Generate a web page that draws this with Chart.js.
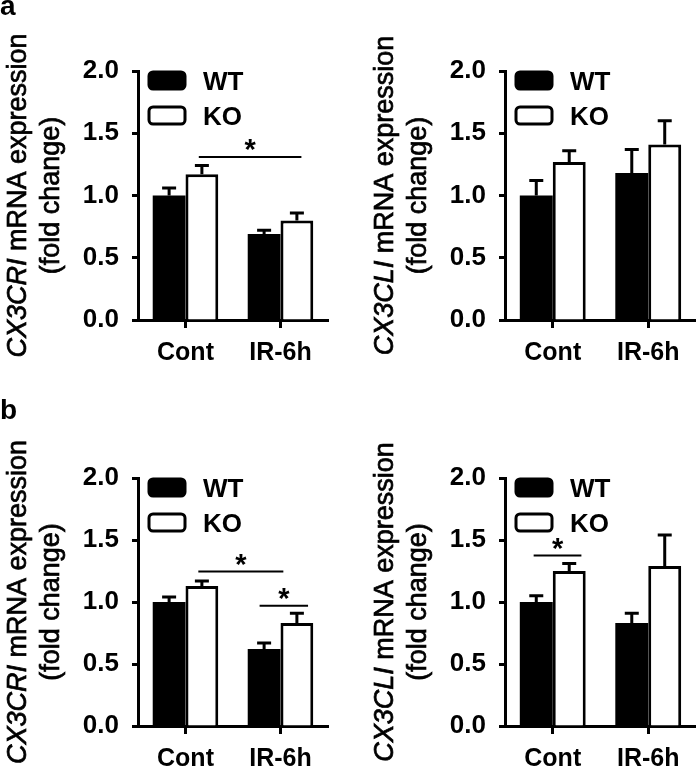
<!DOCTYPE html>
<html lang="en">
<head>
<meta charset="UTF-8">
<title>CX3CR1 / CX3CL1 mRNA expression</title>
<script src="https://cdn.jsdelivr.net/npm/chart.js"></script>
<style>
  body { margin: 0; background: #fff; font-family: 'Liberation Sans', Arial, sans-serif; }
  #fig { position: relative; width: 696px; height: 769px; overflow: hidden; }
  canvas { position: absolute; }
  .tag { position: absolute; font-weight: bold; font-size: 28px; line-height: 1; }
</style>
</head>
<body>
<div id="fig">
  <canvas id="aR" width="348" height="384" style="left:0;top:0"></canvas>
  <canvas id="aL" width="348" height="384" style="left:348px;top:0"></canvas>
  <canvas id="bR" width="348" height="385" style="left:0;top:384px"></canvas>
  <canvas id="bL" width="348" height="385" style="left:348px;top:384px"></canvas>
  <div class="tag" style="left:0;top:-8px">a</div>
  <div class="tag" style="left:0;top:396px">b</div>
</div>

<script>
// data
const categories = ['Cont', 'IR-6h'];
const seriesNames = ['WT', 'KO'];
const yTicks = [0, 0.5, 1.0, 1.5, 2.0];

// panel a, CX3CR1
const aR_wt = [1.00, 0.69];
const aR_wtErr = [0.06, 0.03];
const aR_ko = [1.17, 0.80];
const aR_koErr = [0.07, 0.06];
const aR_sig = [[0.14, 1.22, 1.31]];   // [from, to] on category axis, y value

// panel a, CX3CL1
const aL_wt = [1.00, 1.18];
const aL_wtErr = [0.12, 0.19];
const aL_ko = [1.27, 1.41];
const aL_koErr = [0.09, 0.19];
const aL_sig = [];

// panel b, CX3CR1
const bR_wt = [1.00, 0.62];
const bR_wtErr = [0.04, 0.05];
const bR_ko = [1.13, 0.83];
const bR_koErr = [0.04, 0.08];
const bR_sig = [[0.135, 1.03, 1.245], [0.78, 1.29, 0.97]];

// panel b, CX3CL1
const bL_wt = [1.00, 0.83];
const bL_wtErr = [0.05, 0.08];
const bL_ko = [1.25, 1.29];
const bL_koErr = [0.06, 0.25];
const bL_sig = [[-0.2, 0.3, 1.375]];

const FONT = "'Liberation Sans', Arial, sans-serif";

// upward error bars
const errorBars = {
  id: 'errorBars',
  afterDatasetsDraw(chart) {
    const ctx = chart.ctx, y = chart.scales.y;
    chart.data.datasets.forEach((ds, i) => {
      chart.getDatasetMeta(i).data.forEach((bar, j) => {
        const top = y.getPixelForValue(ds.data[j] + ds.err[j]);
        ctx.save();
        ctx.strokeStyle = '#000';
        ctx.lineWidth = 3;
        ctx.beginPath();
        ctx.moveTo(bar.x, bar.y);
        ctx.lineTo(bar.x, top);
        ctx.moveTo(bar.x - 7, top);
        ctx.lineTo(bar.x + 7, top);
        ctx.stroke();
        ctx.restore();
      });
    });
  }
};

// significance lines with star
const sigBars = {
  id: 'sigBars',
  afterDatasetsDraw(chart, args, opts) {
    const ctx = chart.ctx, x = chart.scales.x, y = chart.scales.y;
    (opts.marks || []).forEach(m => {
      const x1 = x.getPixelForValue(m[0]);
      const x2 = x.getPixelForValue(m[1]);
      const yy = y.getPixelForValue(m[2]);
      ctx.save();
      ctx.strokeStyle = '#000';
      ctx.lineWidth = 2;
      ctx.beginPath();
      ctx.moveTo(x1, yy);
      ctx.lineTo(x2, yy);
      ctx.stroke();
      ctx.fillStyle = '#000';
      ctx.font = 'bold 29px ' + FONT;
      ctx.textAlign = 'center';
      ctx.textBaseline = 'alphabetic';
      ctx.fillText('*', (x1 + x2) / 2, yy + 2);
      ctx.restore();
    });
  }
};

// legend inside the plot, top left
const insideLegend = {
  id: 'insideLegend',
  afterDraw(chart) {
    const ctx = chart.ctx, area = chart.chartArea;
    chart.data.datasets.forEach((ds, i) => {
      const top = area.top + 1 + i * 35;
      ctx.save();
      ctx.beginPath();
      ctx.roundRect(area.left + 11, top, 36, 17, 4);
      ctx.fillStyle = ds.backgroundColor;
      ctx.fill();
      ctx.lineWidth = 3;
      ctx.strokeStyle = '#000';
      ctx.stroke();
      ctx.fillStyle = '#000';
      ctx.font = 'bold 26px ' + FONT;
      ctx.textBaseline = 'alphabetic';
      ctx.fillText(ds.label, area.left + 65, top + 18);
      ctx.restore();
    });
  }
};

// two line y title, gene name in italics
const yTitle = {
  id: 'yTitle',
  afterDraw(chart, args, opts) {
    const ctx = chart.ctx, area = chart.chartArea;
    const cy = (area.top + area.bottom) / 2;
    const rest = ' mRNA expression';
    const put = (txt, x) => { ctx.fillText(txt, x, 0); ctx.strokeText(txt, x, 0); };
    ctx.save();
    ctx.fillStyle = '#000';
    ctx.strokeStyle = '#000';
    ctx.lineWidth = 0.7;
    ctx.textBaseline = 'alphabetic';
    ctx.translate(area.left - 112, cy);
    ctx.rotate(-Math.PI / 2);
    ctx.font = 'italic 27px ' + FONT;
    const w1 = ctx.measureText(opts.gene).width;
    ctx.font = '27px ' + FONT;
    const w2 = ctx.measureText(rest).width;
    const x0 = -(w1 + w2) / 2;
    ctx.font = 'italic 27px ' + FONT;
    put(opts.gene, x0);
    ctx.font = '27px ' + FONT;
    put(rest, x0 + w1);
    ctx.restore();

    ctx.save();
    ctx.fillStyle = '#000';
    ctx.strokeStyle = '#000';
    ctx.lineWidth = 0.7;
    ctx.textBaseline = 'alphabetic';
    ctx.textAlign = 'center';
    ctx.translate(area.left - 79, cy);
    ctx.rotate(-Math.PI / 2);
    ctx.font = '27px ' + FONT;
    put('(fold change)', 0);
    ctx.restore();
  }
};

function makePanel(id, gene, wt, wtErr, ko, koErr, sig, padTop, xHeight, yWidth, padRight) {
  new Chart(document.getElementById(id), {
    type: 'bar',
    data: {
      labels: categories,
      datasets: [
        { label: seriesNames[0], data: wt, err: wtErr, backgroundColor: '#000', borderColor: '#000',
          borderWidth: 0, categoryPercentage: 0.69, barPercentage: 1.0 },
        { label: seriesNames[1], data: ko, err: koErr, backgroundColor: '#fff', borderColor: '#000',
          borderWidth: 3, categoryPercentage: 0.69, barPercentage: 1.0 }
      ]
    },
    options: {
      responsive: false,
      animation: false,
      devicePixelRatio: 1,
      layout: { padding: { top: padTop, right: padRight, left: 0, bottom: 0 } },
      plugins: {
        legend: { display: false },
        tooltip: { enabled: false },
        sigBars: { marks: sig },
        yTitle: { gene: gene }
      },
      scales: {
        x: {
          grid: { drawOnChartArea: false, offset: false, tickLength: 8, tickWidth: 3, tickColor: '#000' },
          border: { display: true, color: '#000', width: 3 },
          ticks: { color: '#000', padding: 10, font: { family: FONT, size: 25, weight: 'bold' } },
          afterFit(s) { s.height = xHeight; }
        },
        y: {
          min: 0,
          max: 2,
          afterBuildTicks(s) { s.ticks = yTicks.map(v => ({ value: v })); },
          grid: { drawOnChartArea: false, tickLength: 6, tickWidth: 3, tickColor: '#000' },
          border: { display: true, color: '#000', width: 3 },
          ticks: { color: '#000', padding: 13, font: { family: FONT, size: 26, weight: 'bold' },
                   callback: v => v.toFixed(1) },
          afterFit(s) { s.width = yWidth; }
        }
      }
    },
    plugins: [errorBars, sigBars, insideLegend, yTitle]
  });
}

makePanel('aR', 'CX3CRI', aR_wt, aR_wtErr, aR_ko, aR_koErr, aR_sig, 71, 64, 138, 20);
makePanel('aL', 'CX3CLI', aL_wt, aL_wtErr, aL_ko, aL_koErr, aL_sig, 71, 64, 157, 0);
makePanel('bR', 'CX3CRI', bR_wt, bR_wtErr, bR_ko, bR_koErr, bR_sig, 94, 43, 138, 20);
makePanel('bL', 'CX3CLI', bL_wt, bL_wtErr, bL_ko, bL_koErr, bL_sig, 94, 43, 157, 0);
</script>
</body>
</html>
